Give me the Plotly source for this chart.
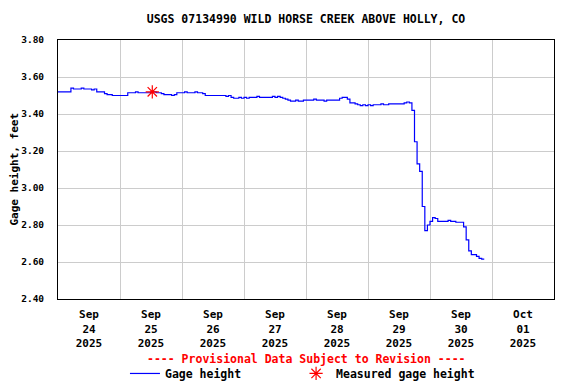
import pandas as pd
import plotly.graph_objects as go

# Hourly gage height (feet)
sep24 = [3.52,3.52,3.52,3.52,3.52,3.54,3.535,3.535,3.535,3.54,3.535,3.535,3.535,3.53,3.535,3.52,3.52,3.52,3.51,3.505,3.505,3.50,3.50,3.50]
sep25 = [3.50,3.50,3.50,3.515,3.515,3.515,3.52,3.515,3.515,3.515,3.515,3.515,3.52,3.52,3.515,3.515,3.51,3.505,3.505,3.505,3.50,3.505,3.515,3.515]
sep26 = [3.515,3.52,3.515,3.515,3.515,3.52,3.515,3.515,3.51,3.50,3.50,3.50,3.50,3.50,3.50,3.50,3.50,3.495,3.50,3.49,3.485,3.485,3.49,3.485]
sep27 = [3.49,3.485,3.49,3.49,3.49,3.495,3.49,3.49,3.49,3.49,3.49,3.495,3.49,3.495,3.49,3.485,3.48,3.475,3.47,3.47,3.475,3.47,3.47,3.475]
sep28 = [3.475,3.475,3.475,3.48,3.475,3.475,3.475,3.47,3.475,3.475,3.475,3.475,3.475,3.485,3.49,3.49,3.48,3.46,3.46,3.455,3.45,3.445,3.45,3.445]
sep29 = [3.45,3.445,3.45,3.45,3.45,3.455,3.45,3.45,3.455,3.455,3.455,3.455,3.455,3.455,3.46,3.465,3.46,3.42,3.25,3.13,3.09,2.90,2.77,2.80]
sep30 = [2.82,2.84,2.835,2.82,2.82,2.82,2.82,2.825,2.82,2.82,2.815,2.815,2.815,2.79,2.72,2.66,2.64,2.64,2.63,2.62,2.615,2.615]

gage_values = sep24 + sep25 + sep26 + sep27 + sep28 + sep29 + sep30
gage_times = pd.date_range("2025-09-24 00:00", periods=len(gage_values), freq="h")

measured_times = ["2025-09-25 12:30"]
measured_values = [3.52]

title_text = "USGS 07134990 WILD HORSE CREEK ABOVE HOLLY, CO"
y_title = "Gage height, feet"
provisional_text = "---- Provisional Data Subject to Revision ----"

FONT = "DejaVu Sans Mono"
LEG_FONT = dict(family=FONT, size=11.5, color="black", weight="bold")

fig = go.Figure()
fig.add_trace(go.Scatter(
    x=gage_times, y=gage_values, mode="lines", name="Gage height",
    line=dict(color="#0000FF", width=1.2, shape="hv"), legend="legend",
))
fig.add_trace(go.Scatter(
    x=measured_times, y=measured_values, mode="markers", name="Measured gage height",
    marker=dict(symbol="asterisk-open", size=11, color="#FF0000",
                line=dict(color="#FF0000", width=1.2)),
    legend="legend2",
))

LEG_Y = -0.2315

# the page body adds an 8px margin, so the figure is 8px smaller
fig.update_layout(
    width=568, height=376,
    margin=dict(l=50, r=22, t=32, b=85, autoexpand=False),
    paper_bgcolor="white", plot_bgcolor="white",
    font=dict(family=FONT, size=11, color="black", weight="bold"),
    title=dict(text=title_text, x=0.5, xref="paper", y=1 - 11/376, yref="container",
               yanchor="middle", xanchor="center",
               font=dict(family=FONT, size=11.5, color="black", weight="bold")),
    showlegend=True,
    legend=dict(orientation="h", x=0.135, xanchor="left", y=LEG_Y, yanchor="top",
                font=LEG_FONT, bgcolor="rgba(0,0,0,0)", itemwidth=30),
    legend2=dict(orientation="h", x=0.48, xanchor="left", y=LEG_Y, yanchor="top",
                 font=LEG_FONT, bgcolor="rgba(0,0,0,0)", itemwidth=30),
    xaxis=dict(
        type="date", automargin=False,
        range=["2025-09-24 00:00", "2025-10-02 00:00"],
        tick0="2025-09-24", dtick=86400000,
        tickformat="%b<br>%d<br>%Y", ticklabelmode="period",
        ticks="", showgrid=True, gridcolor="#CCCCCC", gridwidth=1,
        showline=True, linecolor="black", linewidth=1, mirror=True,
        tickfont=dict(family=FONT, size=11, color="black", weight="bold"),
        ticklabelstandoff=5,
        zeroline=False,
    ),
    yaxis=dict(
        automargin=False,
        range=[2.40, 3.80], dtick=0.2, tick0=2.4, tickformat=".2f",
        ticks="", showgrid=True, gridcolor="#CCCCCC", gridwidth=1,
        showline=True, linecolor="black", linewidth=1, mirror=True,
        tickfont=dict(family=FONT, size=9.5, color="black", weight="bold"),
        ticklabelstandoff=11,
        zeroline=False,
    ),
)

fig.add_annotation(
    text=y_title, xref="paper", yref="paper", x=0, y=0.5, xshift=-44,
    xanchor="center", yanchor="middle", textangle=-90, showarrow=False,
    font=dict(family=FONT, size=11, color="black", weight="bold"),
)

fig.add_annotation(
    text=provisional_text, xref="paper", yref="paper", x=0.5, y=(291 - 351) / 259,
    xanchor="center", yanchor="middle", showarrow=False,
    font=dict(family=FONT, size=11.5, color="#FF0000", weight="bold"),
)

fig.write_html("out.html")
